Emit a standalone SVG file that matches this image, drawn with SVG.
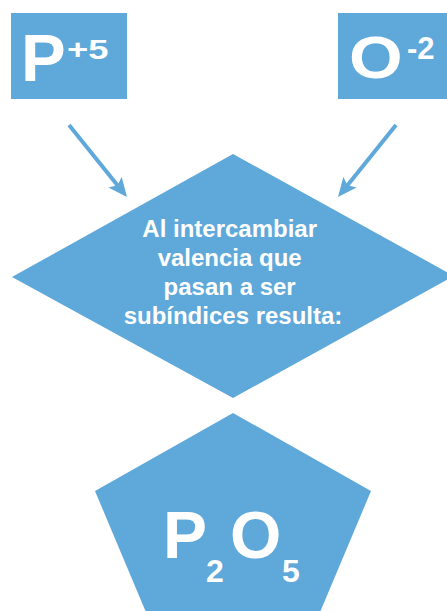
<svg xmlns="http://www.w3.org/2000/svg" width="447" height="611" viewBox="0 0 447 611">
<defs>
<style>
.shape{fill:#5FA8DA;}
.t{fill:#FFFFFF;font-family:"Liberation Sans",Arial,sans-serif;font-weight:bold;}
.conn{stroke:#5FA8DA;stroke-width:4;fill:none;}
</style>
<marker id="arr" markerUnits="userSpaceOnUse" markerWidth="19" markerHeight="17" viewBox="0 0 19 17" refX="9" refY="8.5" orient="auto">
<path d="M0,0 L19,8.5 L0,17 L4,8.5 Z" fill="#5FA8DA"/>
</marker>
</defs>
<g id="node-p">
<rect class="shape" x="11" y="13" width="116" height="86"/>
<text class="t" x="21" y="81" font-size="67">P</text>
<text class="t" x="67" y="59" font-size="28" transform="translate(67 59) scale(1.3 1) translate(-67 -59)">+5</text>
</g>
<g id="node-o">
<rect class="shape" x="338" y="13" width="115" height="86"/>
<text class="t" x="349" y="78" font-size="60" transform="translate(349 78) scale(1.15 1) translate(-349 -78)">O</text>
<text class="t" x="407" y="59" font-size="31">-2</text>
</g>
<g id="connectors">
<line class="conn" x1="69" y1="125" x2="120.7" y2="189.2" marker-end="url(#arr)"/>
<line class="conn" x1="396" y1="125" x2="344.3" y2="189.2" marker-end="url(#arr)"/>
</g>
<g id="node-diamond">
<polygon class="shape" points="233,154 454,276 233,398 12,277"/>
<text class="t" font-size="24" text-anchor="middle">
<tspan x="233" y="237">Al intercambiar</tspan>
<tspan x="233" y="266">valencia que</tspan>
<tspan x="233" y="295">pasan a ser</tspan>
<tspan x="233" y="324">subíndices resulta:</tspan>
</text>
</g>
<g id="node-pentagon">
<polygon class="shape" points="233,413 371,491 318,617 148,617 95,491"/>
<text class="t" x="163" y="558" font-size="66">P</text>
<text class="t" x="206" y="582" font-size="32">2</text>
<text class="t" x="230" y="558" font-size="66">O</text>
<text class="t" x="282" y="582" font-size="32">5</text>
</g>
</svg>
